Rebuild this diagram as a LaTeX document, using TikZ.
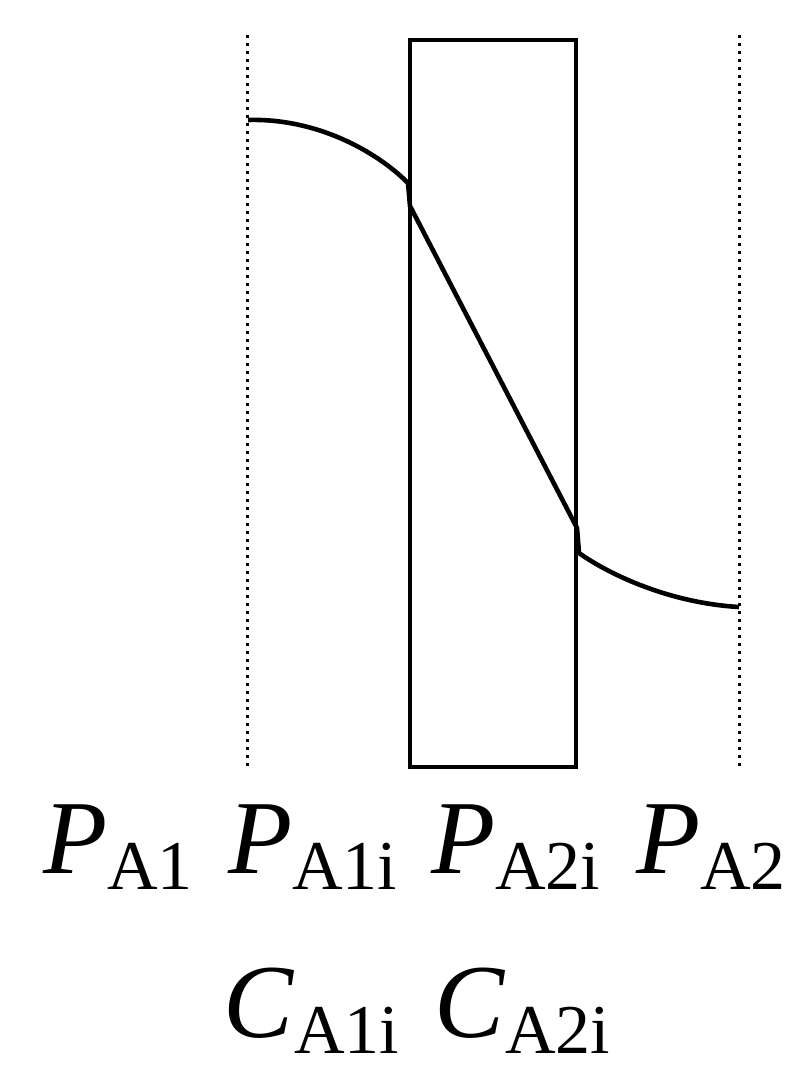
\documentclass[tikz,border=0pt]{standalone}
\usepackage{fontspec}
\setmainfont{Liberation Serif}
\usepackage{tikz}
\usetikzlibrary{positioning}
\newcommand{\sublabel}[2]{\textit{#1}\raisebox{-16pt}{\fontsize{70}{74}\selectfont #2}}

\begin{document}
\begin{tikzpicture}[x=1pt, y=-1pt,
    bound/.style={line width=3pt, dash pattern=on 3pt off 5pt},
    curveline/.style={line width=4.6pt, line join=round},
    lbl/.style={anchor=base west, inner sep=0pt, font=\fontsize{105}{110}\selectfont}]
    \useasboundingbox (0,0) rectangle (791,1066);
    % film boundaries
    \coordinate (lefttop) at (247,35);
    \coordinate (leftbot) at (247,768);
    \coordinate (righttop) at (739,35);
    \coordinate (rightbot) at (739,768);
    \draw[bound] (lefttop) -- (leftbot);
    \draw[bound] (righttop) -- (rightbot);
    % membrane
    \node[draw, line width=4.6pt, minimum width=166pt, minimum height=727pt, inner sep=0pt]
      (membrane) at (493,403.5) {};
    % concentration profile
    \coordinate (pA1) at (248,120);
    \coordinate (pA1i) at (408,183);
    \coordinate (cA1i) at (410,206);
    \coordinate (cA2i) at (577,528);
    \coordinate (pA2i) at (579,553);
    \coordinate (pA2) at (739,607);
    \draw[curveline] (pA1) .. controls (315,118) and (375,150) .. (pA1i)
      -- (cA1i) -- (cA2i) -- (pA2i)
      .. controls (610,575) and (670,603) .. (pA2);
    % labels
    \node[lbl] (labPA1) at (43,873) {\sublabel{P}{A1}};
    \node[lbl] (labPA1i) at (228,873) {\sublabel{P}{A1i}};
    \node[lbl] (labPA2i) at (431,873) {\sublabel{P}{A2i}};
    \node[lbl] (labPA2) at (636,873) {\sublabel{P}{A2}};
    \node[lbl] (labCA1i) at (223,1037) {\sublabel{C}{A1i}};
    \node[lbl] (labCA2i) at (434,1037) {\sublabel{C}{A2i}};
\end{tikzpicture}
\end{document}
